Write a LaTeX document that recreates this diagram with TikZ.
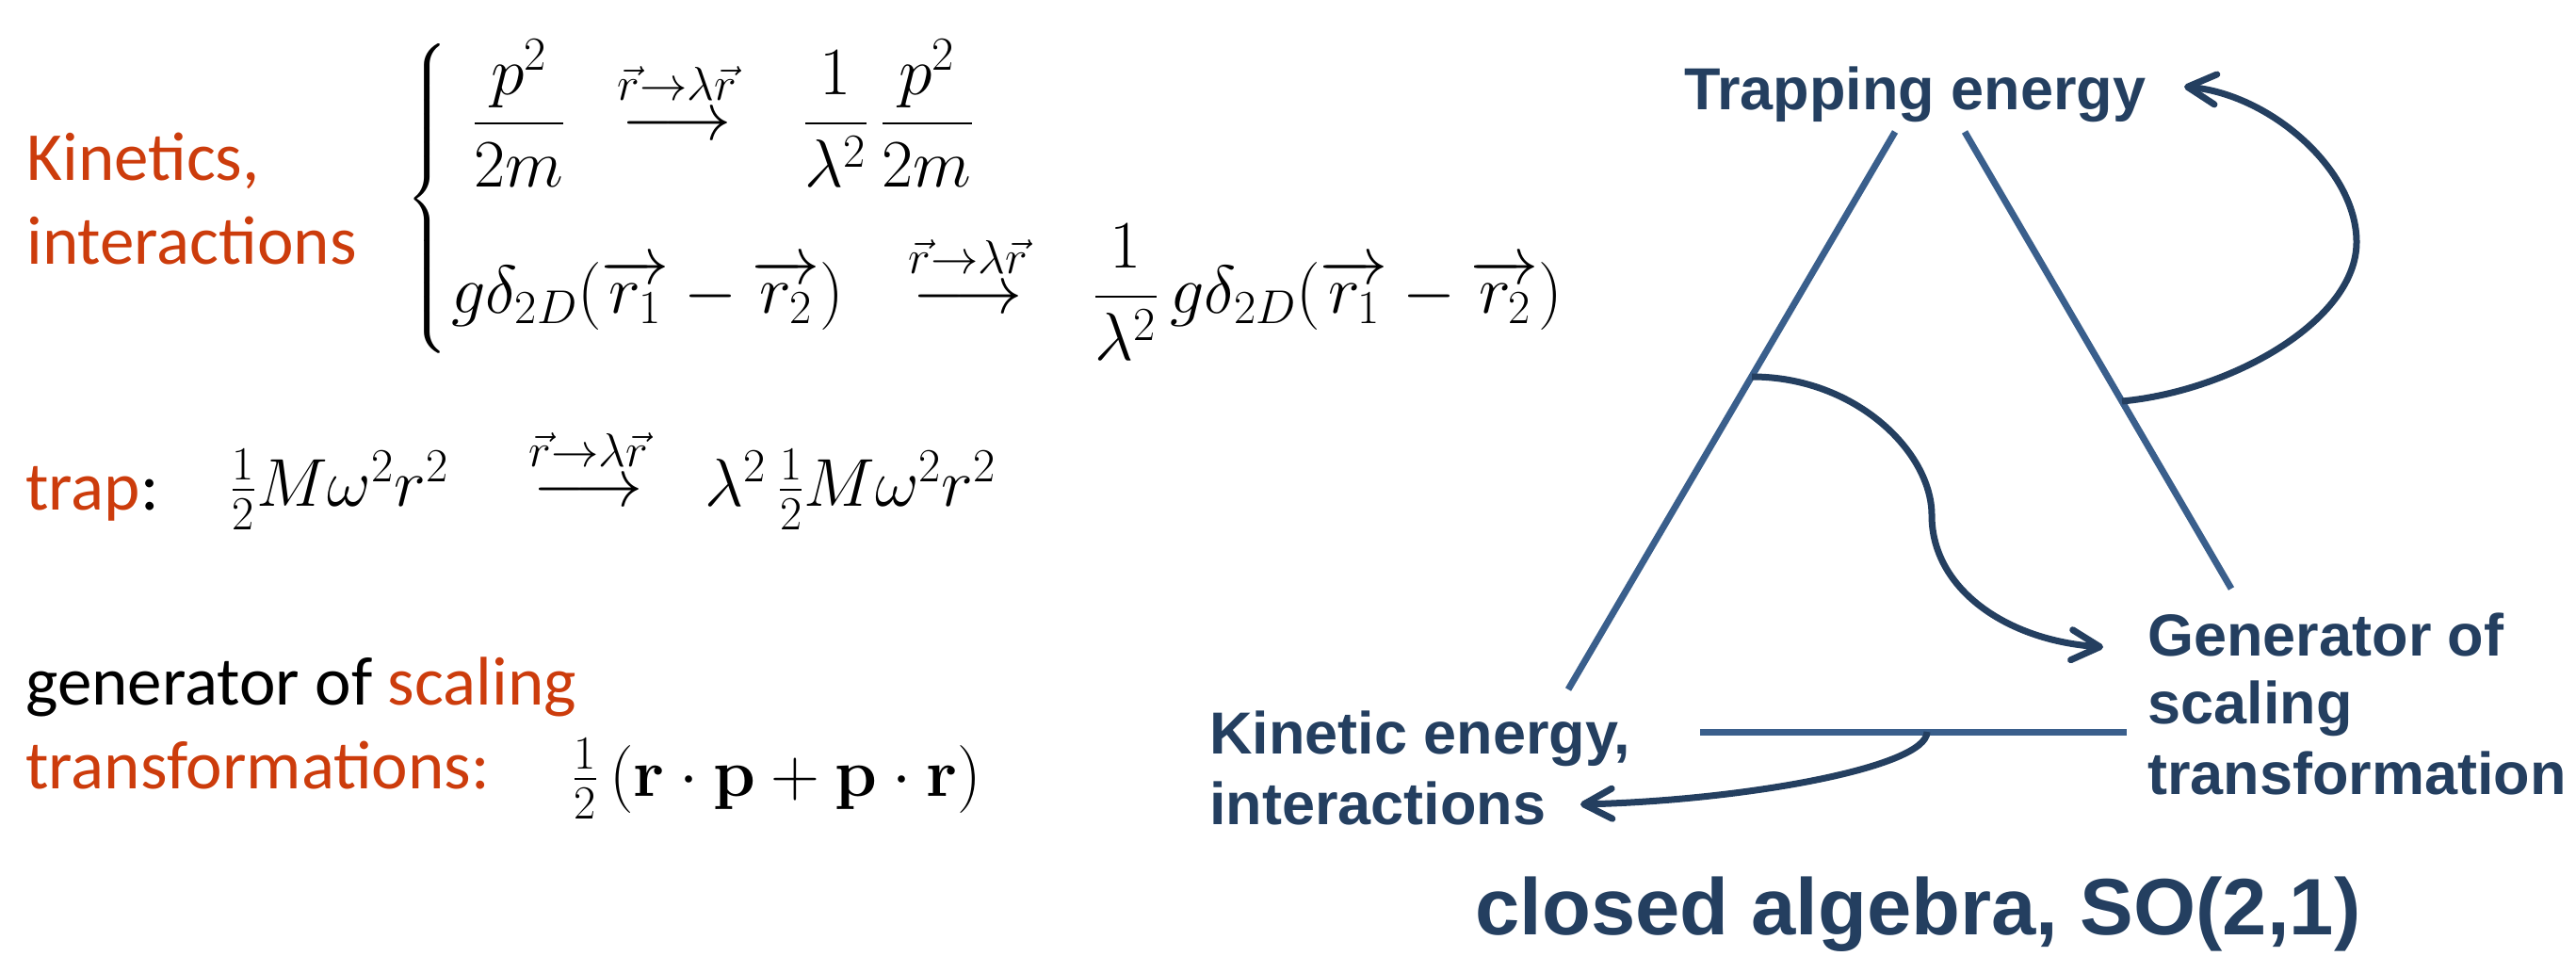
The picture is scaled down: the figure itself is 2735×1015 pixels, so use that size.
\RequirePackage{fix-cm}
\documentclass[tikz,border=0pt]{standalone}
\usepackage{amsmath}
\usepackage[no-math]{fontspec}
\newfontfamily\calib{Carlito}
\newfontfamily\arl{Liberation Sans}
\usetikzlibrary{arrows.meta}
\definecolor{redtxt}{RGB}{204,60,12}
\definecolor{bluetxt}{RGB}{36,63,96}
\definecolor{blueline}{RGB}{58,95,140}
\tikzset{
  lt/.style={font=\calib\fontsize{36.5}{44}\selectfont, inner sep=0pt, anchor=base west},
  mth/.style={font=\fontsize{36}{43}\selectfont, inner sep=0pt, anchor=base west},
  rl/.style={font=\arl\bfseries\fontsize{31.5}{37}\selectfont, text=bluetxt, inner sep=0pt, anchor=base west},
  tri/.style={draw=blueline, line width=3.5pt},
  crv/.style={draw=bluetxt, line width=3.5pt, -{Straight Barb[length=15pt,width=16pt,round]}},
}
\newcommand{\maparrow}{\mathrel{\overset{\raisebox{3pt}{$\scriptstyle\vec r\to\lambda\vec r$}}{\longrightarrow}}}
\begin{document}
\begin{tikzpicture}[x=0.5pt,y=-0.5pt]
\useasboundingbox (0,0) rectangle (2735,1015);
% ---------- left: text ----------
\node[lt, text=redtxt] (kin1) at (28,192) {Kinetics,};
\node[lt, text=redtxt] (kin2) at (28,281) {interactions};
\node[mth, anchor=center, font=\fontsize{24}{28}\selectfont] (br) at (455,211)
  {$\left\{\vcenter{\hbox{\rule{0pt}{163pt}}}\right.$};
\node[mth] (f1) at (501,149) {$\dfrac{p^2}{2m}$};
\node[mth] (a1) at (655,149) {$\maparrow$};
\node[mth] (f2) at (852,149) {$\dfrac{1}{\lambda^2}\,\dfrac{p^2}{2m}$};
\node[mth] (g1) at (479,333) {$g\delta_{2D}(\overrightarrow{r_1}-\overrightarrow{r_2})$};
\node[mth] (a2) at (964,333) {$\maparrow$};
\node[mth] (g2) at (1160,333) {$\dfrac{1}{\lambda^2}\,g\delta_{2D}(\overrightarrow{r_1}-\overrightarrow{r_2})$};
\node[lt] (trap) at (27,542) {\textcolor{redtxt}{trap}:};
\node[mth] (t1) at (244,538) {$\tfrac{1}{2}M\omega^2r^2$};
\node[mth] (a3) at (561,538) {$\maparrow$};
\node[mth] (t2) at (748,538) {$\lambda^2\,\tfrac{1}{2}M\omega^2r^2$};
\node[lt] (gen) at (27,748) {generator of \textcolor{redtxt}{scaling}};
\node[lt, text=redtxt] (trf) at (27,837) {transformations:};
\node[mth] (s1) at (607,845) {$\tfrac{1}{2}\left(\mathbf{r}\cdot\mathbf{p}+\mathbf{p}\cdot\mathbf{r}\right)$};
% ---------- right: diagram ----------
\node[rl] (te) at (1788,117) {Trapping energy};
\node[rl] (gs1) at (2280,696) {Generator of};
\node[rl] (gs2) at (2280,768) {scaling};
\node[rl] (gs3) at (2280,843) {transformation};
\node[rl] (ke1) at (1284,800) {Kinetic energy,};
\node[rl] (ke2) at (1284,875) {interactions};
\node[rl, font=\arl\bfseries\fontsize{42.5}{50}\selectfont] (ca) at (1566,992) {closed algebra, SO(2,1)};
\coordinate (LT) at (2012,140);
\coordinate (LB) at (1665,732);
\coordinate (RT) at (2086,140);
\coordinate (RB) at (2369,625);
\coordinate (BL) at (1805,777);
\coordinate (BR) at (2258,777);
\draw[tri] (LT) -- (LB);
\draw[tri] (RT) -- (RB);
\draw[tri] (BL) -- (BR);
\coordinate (sA) at (2253,426);
\coordinate (mA) at (2502,257);
\coordinate (eA) at (2319,92);
\coordinate (sB) at (1860,400);
\coordinate (mB) at (2051,547);
\coordinate (eB) at (2233,687);
\coordinate (sC) at (2046,777);
\coordinate (eC) at (1678,854);
\draw[crv] (sA) .. controls (2370,415) and (2502,340) .. (mA)
               .. controls (2502,180) and (2410,100) .. (eA);
\draw[crv] (sB) .. controls (1970,400) and (2051,480) .. (mB)
               .. controls (2051,625) and (2130,680) .. (eB);
\draw[crv] (sC) .. controls (2046,815) and (1850,850) .. (eC);
\end{tikzpicture}
\end{document}
